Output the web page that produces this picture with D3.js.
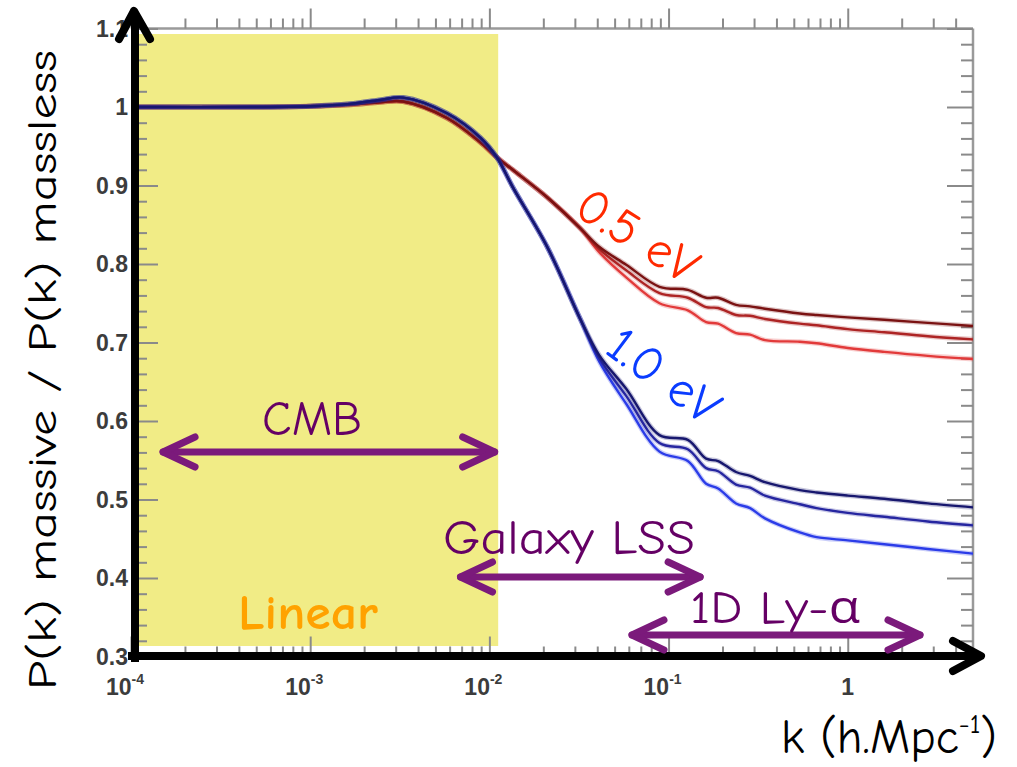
<!DOCTYPE html>
<html lang="en">
<head>
<meta charset="UTF-8">
<title>P(k) massive / P(k) massless</title>
<script src="https://d3js.org/d3.v7.min.js"></script>
<style>
  body { margin: 0; background: #fff; }
  svg { display: block; }
  .comic { font-family: "Comic Sans MS", "Comic Neue", "Open Sans", sans-serif; }
  .frame-axis path { stroke: none; }
  .frame-axis line { stroke: #8a8a8a; stroke-width: 2; }
</style>
</head>
<body>
<svg width="1017" height="767"></svg>
<script>
// k grid (h/Mpc) and ratios
const kValues = [1e-4, 4.6e-4, 1.0e-3, 1.67e-3, 2.45e-3, 3.3e-3, 5.8e-3, 8.9e-3, 0.011, 0.0135, 0.021, 0.032, 0.041, 0.058, 0.089, 0.128, 0.162, 0.189, 0.238, 0.285, 0.345, 0.54, 0.67, 1.0, 1.6, 2.8, 5.0];

// 0.5 eV (red), three curves
const red1 = [1.000, 1.000, 1.001, 1.003, 1.006, 1.007, 0.986, 0.955, 0.936, 0.920, 0.885, 0.846, 0.822, 0.799, 0.771, 0.767, 0.757, 0.757, 0.748, 0.746, 0.743, 0.737, 0.735, 0.732, 0.729, 0.725, 0.721];
const red2 = [1.000, 1.000, 1.001, 1.003, 1.006, 1.007, 0.986, 0.955, 0.936, 0.920, 0.885, 0.846, 0.819, 0.792, 0.763, 0.757, 0.745, 0.744, 0.735, 0.734, 0.730, 0.724, 0.722, 0.717, 0.713, 0.708, 0.704];
const red3 = [1.000, 1.000, 1.001, 1.003, 1.006, 1.007, 0.986, 0.955, 0.936, 0.920, 0.885, 0.846, 0.815, 0.783, 0.750, 0.741, 0.726, 0.724, 0.712, 0.710, 0.703, 0.701, 0.699, 0.693, 0.688, 0.683, 0.679];

// 1.0 eV (blue), three curves
const blue1 = [1.000, 1.000, 1.001, 1.004, 1.009, 1.012, 0.992, 0.961, 0.936, 0.898, 0.822, 0.731, 0.684, 0.641, 0.582, 0.576, 0.552, 0.549, 0.535, 0.530, 0.522, 0.512, 0.509, 0.505, 0.501, 0.495, 0.490];
const blue2 = [1.000, 1.000, 1.001, 1.004, 1.009, 1.012, 0.992, 0.961, 0.936, 0.898, 0.822, 0.731, 0.680, 0.632, 0.572, 0.564, 0.540, 0.536, 0.519, 0.515, 0.505, 0.494, 0.489, 0.483, 0.478, 0.472, 0.467];
const blue3 = [1.000, 1.000, 1.001, 1.004, 1.009, 1.012, 0.992, 0.961, 0.936, 0.898, 0.822, 0.731, 0.676, 0.622, 0.561, 0.549, 0.520, 0.514, 0.495, 0.489, 0.476, 0.458, 0.452, 0.448, 0.443, 0.437, 0.431];

const yTicks = [1.1, 1.0, 0.9, 0.8, 0.7, 0.6, 0.5, 0.4, 0.3];
const yTickLabels = ["1.1", "1", "0.9", "0.8", "0.7", "0.6", "0.5", "0.4", "0.3"];
const xTicks = [1e-4, 1e-3, 1e-2, 1e-1, 1];
const xTickLabels = [["10", "-4"], ["10", "-3"], ["10", "-2"], ["10", "-1"], ["1", ""]];

// scale ranges = ROOT frame on the picture
const fLeft = 131, fRight = 973, fTop = 28.5, fBottom = 656.5;
const x = d3.scaleLog().domain([1e-4, 5]).range([fLeft, fRight]);
const y = d3.scaleLinear().domain([0.3, 1.1]).range([fBottom, fTop]);

const svg = d3.select("svg");

// yellow "linear" band (up to k ~ 1.1e-2)
svg.append("rect")
    .attr("x", 139).attr("y", 34)
    .attr("width", x(0.0112) - 139).attr("height", 612)
    .attr("fill", "#f1ec86");

// frame lines
svg.append("line").attr("x1", 137).attr("x2", fRight).attr("y1", fTop).attr("y2", fTop)
    .attr("stroke", "#9a9a9a").attr("stroke-width", 2.5);
svg.append("line").attr("x1", fRight).attr("x2", fRight).attr("y1", fTop).attr("y2", fBottom)
    .attr("stroke", "#9a9a9a").attr("stroke-width", 2.5);

// minor log ticks
const minorX = [];
[1e-4, 1e-3, 1e-2, 1e-1, 1].forEach(d => {
    for (let m = 2; m <= 9; m++) if (d * m < 5) minorX.push(d * m);
});
const minorY = d3.range(0.32, 1.1, 0.02).filter(v => Math.abs(v * 10 - Math.round(v * 10)) > 0.01);

svg.append("g").attr("class", "frame-axis").attr("transform", `translate(0,${fTop})`)
    .call(d3.axisBottom(x).tickValues(minorX).tickSize(-10).tickFormat(""));
svg.append("g").attr("class", "frame-axis").attr("transform", `translate(0,${fTop})`)
    .call(d3.axisBottom(x).tickValues(xTicks).tickSize(-20).tickFormat(""));
svg.append("g").attr("class", "frame-axis").attr("transform", `translate(0,${fBottom})`)
    .call(d3.axisTop(x).tickValues(minorX).tickSize(10).tickFormat(""));
svg.append("g").attr("class", "frame-axis").attr("transform", `translate(0,${fBottom})`)
    .call(d3.axisTop(x).tickValues(xTicks).tickSize(20).tickFormat(""));
svg.append("g").attr("class", "frame-axis").attr("transform", `translate(137,0)`)
    .call(d3.axisRight(y).tickValues(minorY).tickSize(10).tickFormat(""));
svg.append("g").attr("class", "frame-axis").attr("transform", `translate(137,0)`)
    .call(d3.axisRight(y).tickValues(yTicks).tickSize(21).tickFormat(""));
svg.append("g").attr("class", "frame-axis").attr("transform", `translate(${fRight},0)`)
    .call(d3.axisLeft(y).tickValues(minorY).tickSize(12).tickFormat(""));
svg.append("g").attr("class", "frame-axis").attr("transform", `translate(${fRight},0)`)
    .call(d3.axisLeft(y).tickValues(yTicks).tickSize(26).tickFormat(""));

// curves
svg.append("clipPath").attr("id", "plot-clip")
    .append("rect").attr("x", 138).attr("y", fTop).attr("width", fRight - 138).attr("height", fBottom - fTop);

const line = d3.line()
    .x((d, i) => x(kValues[i]))
    .y(d => y(d))
    .curve(d3.curveCatmullRom.alpha(0.5));

const series = [
    { values: red3, color: "#e23a3a" },
    { values: red2, color: "#ad2424" },
    { values: red1, color: "#7a1212" },
    { values: blue3, color: "#2b3ce8" },
    { values: blue2, color: "#2626a0" },
    { values: blue1, color: "#17176e" }
];

const curves = svg.append("g").attr("clip-path", "url(#plot-clip)");
series.forEach(s => {
    curves.append("path").attr("d", line(s.values))
        .attr("fill", "none").attr("stroke", s.color).attr("stroke-opacity", 0.25)
        .attr("stroke-width", 5);
    curves.append("path").attr("d", line(s.values))
        .attr("fill", "none").attr("stroke", s.color).attr("stroke-width", 2.4);
});

// tick labels
const labelFont = sel => sel.attr("font-family", "'Liberation Sans', Arial, sans-serif")
    .attr("font-weight", "bold").attr("fill", "#3c3c3c").attr("font-size", 23);

svg.selectAll(".ylab").data(yTicks).enter().append("text")
    .call(labelFont)
    .attr("x", 128).attr("y", d => y(d) + 8)
    .attr("text-anchor", "end")
    .text((d, i) => yTickLabels[i]);

xTicks.forEach((d, i) => {
    const t = svg.append("text").call(labelFont)
        .attr("x", x(d) + (xTickLabels[i][1] ? -6 : 0)).attr("y", 695)
        .attr("text-anchor", "middle");
    t.append("tspan").text(xTickLabels[i][0]);
    if (xTickLabels[i][1]) t.append("tspan").attr("dy", -11).attr("font-size", 14).text(xTickLabels[i][1]);
});

// black axes with arrows
const axisPen = sel => sel.attr("fill", "none").attr("stroke", "#000")
    .attr("stroke-width", 8).attr("stroke-linecap", "round").attr("stroke-linejoin", "round");
svg.append("path").attr("d", "M135,662 V12").call(axisPen).attr("stroke-linecap", "butt");
svg.append("path").attr("d", "M119,39 L134,11 L150,39").call(axisPen);
svg.append("path").attr("d", "M128,656 H978").call(axisPen).attr("stroke-linecap", "butt");
svg.append("path").attr("d", "M953,641 L981,656 L953,671").call(axisPen);

// axis titles
svg.append("text").attr("class", "comic")
    .attr("transform", "translate(56,370) rotate(-90)")
    .attr("text-anchor", "middle").attr("font-size", 40).attr("fill", "#000")
    .attr("textLength", 640).attr("lengthAdjust", "spacingAndGlyphs")
    .text("P(k) massive / P(k) massless");

const xt = svg.append("text").attr("class", "comic")
    .attr("x", 781).attr("y", 753).attr("font-size", 48).attr("fill", "#000");
xt.append("tspan").text("k (h.Mpc");
xt.append("tspan").attr("dy", -20).attr("font-size", 27).text("-1");
xt.append("tspan").attr("dy", 20).text(")");

// mass labels
svg.append("text").attr("class", "comic")
    .attr("transform", "translate(572,214) rotate(32)")
    .attr("font-size", 50).attr("fill", "#ff2a00").text("0.5 eV");
svg.append("text").attr("class", "comic")
    .attr("transform", "translate(603,352) rotate(36)")
    .attr("font-size", 50).attr("fill", "#0a3cff").text("1.0 eV");

// regime arrows
const purple = "#7b1a7b";
function doubleArrow(k1, k2, yy) {
    const x1 = x(k1), x2 = x(k2);
    const g = svg.append("g").attr("fill", "none").attr("stroke", purple)
        .attr("stroke-width", 7).attr("stroke-linecap", "round").attr("stroke-linejoin", "round");
    g.append("path").attr("d", `M${x1},${yy} H${x2}`);
    g.append("path").attr("d", `M${x1 + 32},${yy - 15} L${x1},${yy} L${x1 + 32},${yy + 15}`);
    g.append("path").attr("d", `M${x2 - 32},${yy - 15} L${x2},${yy} L${x2 - 32},${yy + 15}`);
}
doubleArrow(1.51e-4, 0.0107, 452);
doubleArrow(0.0069, 0.15, 577);
doubleArrow(0.0625, 2.53, 635);

svg.append("text").attr("class", "comic").attr("x", 312).attr("y", 435)
    .attr("text-anchor", "middle").attr("font-size", 48).attr("fill", "#650065")
    .attr("textLength", 100).attr("lengthAdjust", "spacingAndGlyphs").text("CMB");
svg.append("text").attr("class", "comic").attr("x", 569).attr("y", 554)
    .attr("text-anchor", "middle").attr("font-size", 48).attr("fill", "#650065")
    .attr("textLength", 252).attr("lengthAdjust", "spacingAndGlyphs").text("Galaxy LSS");
svg.append("text").attr("class", "comic").attr("x", 775).attr("y", 623)
    .attr("text-anchor", "middle").attr("font-size", 46).attr("fill", "#650065")
    .attr("textLength", 170).attr("lengthAdjust", "spacingAndGlyphs").text("1D Ly-α");
svg.append("text").attr("class", "comic").attr("x", 308).attr("y", 629)
    .attr("text-anchor", "middle").attr("font-size", 48).attr("font-weight", "bold").attr("fill", "#ffa200")
    .attr("textLength", 140).attr("lengthAdjust", "spacingAndGlyphs").text("Linear");
</script>
</body>
</html>
